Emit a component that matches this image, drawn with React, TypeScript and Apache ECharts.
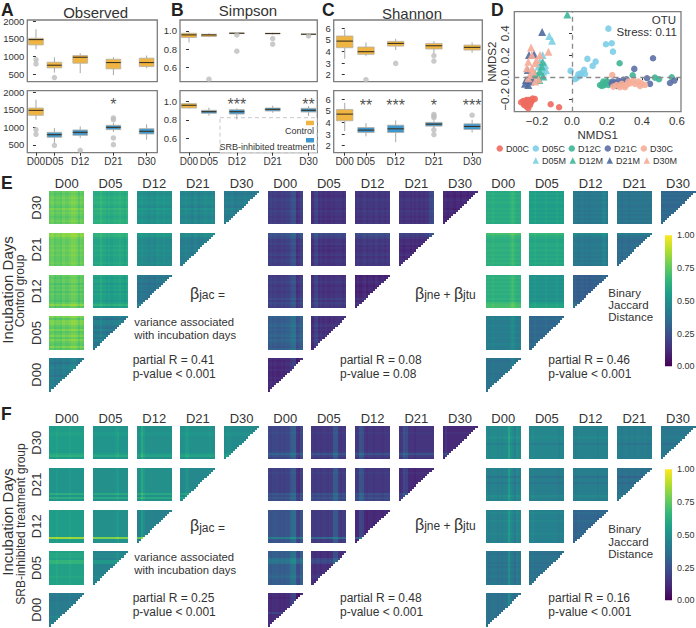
import React, { useEffect, useRef } from "react";
import * as echarts from "echarts";

const FONT = "Liberation Sans";
const days = [0, 5, 12, 21, 30];
const dayLabels = ["D00", "D05", "D12", "D21", "D30"];
const rowLabels = ["D30", "D21", "D12", "D05", "D00"];

// box rows: [day, q1, median, q3, low whisker, high whisker]
const obsTop = [[0,1328,1480,1517,1205,1773],[5,674,750,835,542,977],[12,807,977,1025,523,1090],[21,646,826,920,466,977],[30,712,826,950,665,1025]];
const obsBottom = [[0,1340,1480,1547,1217,1783],[5,717,792,858,557,980],[12,773,858,925,698,1028],[21,934,1000,1057,868,1130],[30,811,887,962,651,1085]];
const simTop = [[0,.927,.956,.974,.872,.985],[5,.938,.956,.963,.93,.974],[12,.97,.974,.977,.965,.98],[21,.968,.971,.975,.96,.98],[30,.96,.963,.966,.949,.974]];
const simBottom = [[0,.93,.96,.978,.923,.989],[5,.872,.89,.905,.846,.934],[12,.864,.89,.912,.806,.927],[21,.897,.916,.93,.879,.956],[30,.886,.905,.927,.842,.952]];
const shaTop = [[0,4.33,4.9,5.34,3.38,5.9],[5,3.76,3.99,4.39,3.6,4.79],[12,4.47,4.7,4.88,4.13,5.1],[21,4.22,4.5,4.7,3.84,4.9],[30,4.13,4.36,4.56,3.9,4.79]];
const shaBottom = [[0,4.14,4.71,5.11,3.25,5.68],[5,3.13,3.34,3.56,2.8,3.94],[12,3.13,3.45,3.76,2.3,4.17],[21,3.68,3.85,4.0,3.5,4.17],[30,3.39,3.65,3.88,3.13,4.22]];

const obsTopOut = [[0,911],[0,788],[5,400]];
const obsBottomOut = [[0,934],[0,801],[5,490],[12,349],[21,1264],[21,1217],[21,698],[21,509]];
const simTopOut = [[5,.468],[12,.956],[12,.776],[21,.916],[21,.853],[30,.945]];
const simBottomOut: number[][] = [];
const shaTopOut = [[5,1.57],[12,2.98],[21,3.64],[21,3.18]];
const shaBottomOut = [[21,4.68],[21,4.54],[21,4.4],[21,3.36],[21,2.96],[30,4.62]];

const obsStars = [[21, "*"]];
const simStars = [[12, "***"], [30, "**"]];
const shaStars = [[5, "**"], [12, "***"], [21, "*"], [30, "***"]];

// NMDS ordination points
const d00c = [[-.291,-.227],[-.278,-.215],[-.269,-.242],[-.259,-.267],[-.25,-.282],[-.244,-.206],[-.236,-.23],[-.225,-.194],[-.213,-.197],[-.25,-.236],[-.263,-.218],[-.23,-.215],[-.274,-.252],[-.259,-.206],[-.24,-.252],[-.122,-.245],[-.074,-.273]];
const d05c = [[.208,.442],[.194,.3],[.227,.309],[.234,.233],[.088,.167],[.135,.142],[.118,.103],[.069,.067],[.05,.036],[.036,.027],[-.008,.058],[.017,-.018],[.03,-.003],[.074,.03],[.046,.012]];
const d12c = [[.272,.127],[.347,.018],[.474,-.003],[.497,-.018],[.57,0],[.16,-.07],[.179,-.039],[.17,-.079],[.189,-.055],[.198,-.036],[.217,-.048],[.183,-.073],[.208,-.07]];
const d21c = [[.463,.173],[.356,.076],[.429,-.009],[.56,-.052],[.585,-.03],[.232,-.039],[.246,-.048],[.265,-.033],[.293,-.024],[.312,-.018],[.227,-.06],[.255,-.079],[.446,-.06],[.278,-.048]];
const d30c = [[.23,.021],[.35,-.03],[.379,-.039],[.398,-.055],[.417,-.07],[.331,-.055],[.312,-.07],[.293,-.079],[.274,-.091],[.255,-.07],[.236,-.085],[.36,-.06],[.389,-.079],[.284,-.06],[.303,-.091],[.322,-.039]];
const d05m = [[-.13,.376],[-.114,.333],[-.168,.203],[-.154,.112],[-.164,.052],[-.183,.142],[-.149,.067],[-.173,.021],[-.192,.097]];
const d12m = [[-.027,.57],[-.168,.142],[-.183,.052],[-.198,.021],[-.173,.097],[-.164,.006],[-.211,.03],[-.187,-.024]];
const d21m = [[-.171,.412],[-.246,.203],[-.217,.209],[-.253,.067],[-.25,-.07],[-.263,-.024],[-.24,-.039],[-.269,-.06],[-.23,-.009]];
const d30m = [[-.234,.27],[-.135,.233],[-.23,.203],[-.25,.142],[-.211,.127],[-.259,.082],[-.23,.082],[-.202,.158],[-.24,.021],[-.211,-.039],[-.192,-.018],[-.25,-.009],[-.221,.052],[-.183,.203]];

// Panel mean distances, rows D30 -> D00, columns D00 -> D30
const eJacBase = [[.75,.62,.5,.46,.42],[.75,.58,.47,.42],[.73,.56,.38],[.75,.4],[.42]];
const eMidBase = [[.2,.16,.17,.16,.12],[.2,.16,.17,.13],[.2,.16,.12],[.3,.14],[.14]];
const eBinBase = [[.6,.55,.4,.38,.33],[.62,.58,.4,.35],[.62,.5,.3],[.42,.33],[.38]];
const fJacBase = [[.55,.52,.5,.5,.48],[.52,.5,.5,.47],[.55,.5,.45],[.57,.45],[.42]];
const fMidBase = [[.22,.17,.16,.15,.12],[.2,.18,.17,.12],[.27,.18,.12],[.3,.14],[.13]];
const fBinBase = [[.48,.46,.45,.43,.4],[.45,.43,.43,.38],[.45,.44,.33],[.4,.38],[.38]];

// Stripe profiles per incubation day: base-36 digit, 5 = no shift, one step = 0.02
const eJacCols = ["5645546556776465","5557554545556546","5565545546556555","5565546545565565","5556545556555565"];
const eJacRows = ["5456565475654565","8865556565655565","6566465646554695","7477547457475474","5535655536555555"];
const eMidCols = ["4545445455788235","4784545445455545","4545645546545455","5545545454545589","5545545545545565"];
const eMidRows = ["5545655546554545","9875564545645655","4556545545575765","6556756567576546","5455454445455544"];
const eBinCols = ["5556555555578655","5565555655556555","5545545455555775","5545545555555555","5555555555555555"];
const eBinRows = ["5656565565656565","9765566565656565","5656565656565899","5655655655655655","5455555455555555"];
const fJacCols = ["5556555556555555","5555555555675555","55a7555555555555","5577555555555655","5665555555555555"];
const fJacRows = ["5556655555555795","555555555555a5a5","5555555555555k55","5665995555556555","5544555555575555"];
const fMidCols = ["5455545455899215","5455455455aa5455","55a9545545554555","56a9555455555555","4755555555555555"];
const fMidRows = ["5556555555556a75","5565555555559797","5555555555555d55","5559a95555567555","5545555559555555"];
const fBinCols = ["5455545455a65365","5655555555555455","5455555555545555","5545545545545545","5555555555555555"];
const fBinRows = ["5555565535555555","5555255355555765","5655565555565555","5455545455455455","5555555555555555"];

const viridisStops = ["#440154","#482878","#3e4989","#31688e","#26828e","#1f9e89","#35b779","#6ece58","#b5de2b","#fde725"];

const boxPos = { top: [20, 61.7], bottom: [90.7, 62] };
const panels = [
  { left: 27.3, width: 130, xr: [-2.35, 32.9], yr: [281, 2037], ticks: [500,1000,1500,2000], fmt: (v: number) => String(v), boxW: 14.7, top: obsTop, bottom: obsBottom, topOut: obsTopOut, botOut: obsBottomOut, stars: obsStars, starY: 1640 },
  { left: 180, width: 137.3, xr: [-2.26, 32.2], yr: [.44, 1.12], ticks: [.6,.8,1], fmt: (v: number) => v.toFixed(1), boxW: 15, top: simTop, bottom: simBottom, topOut: simTopOut, botOut: simBottomOut, stars: simStars, starY: .964 },
  { left: 333.7, width: 148.6, xr: [-2.6, 32.4], yr: [1.4, 6.72], ticks: [2,3,4,5,6], fmt: (v: number) => String(v), boxW: 16.4, top: shaTop, bottom: shaBottom, topOut: shaTopOut, botOut: shaBottomOut, stars: shaStars, starY: 5.43 },
];

const heatBlocks = [
  { left: 49.3, top: 191, base: eJacBase, cols: eJacCols, rows: eJacRows, yLabels: true },
  { left: 267.7, top: 191, base: eMidBase, cols: eMidCols, rows: eMidRows, yLabels: false },
  { left: 485.7, top: 191, base: eBinBase, cols: eBinCols, rows: eBinRows, yLabels: false },
  { left: 49.3, top: 426, base: fJacBase, cols: fJacCols, rows: fJacRows, yLabels: true },
  { left: 267.7, top: 426, base: fMidBase, cols: fMidCols, rows: fMidRows, yLabels: false },
  { left: 485.7, top: 426, base: fBinBase, cols: fBinCols, rows: fBinRows, yLabels: false },
];

const clamp01 = (v: number) => Math.max(0, Math.min(1, v));
const viridis = (v: number) => echarts.color.lerp(clamp01(v), viridisStops) as string;
const shift = (c: string) => (parseInt(c, 36) - 5) * 0.02;

function heatCells(b: typeof heatBlocks[number]) {
  const cells: number[][] = [];
  b.base.forEach((row, r) => {
    row.forEach((m, c) => {
      const tri = c === row.length - 1;
      for (let i = 0; i < 16; i++) for (let j = 0; j < 16; j++) {
        if (tri && i + j >= 16) continue;
        cells.push([c * 20 + j, r * 20 + i, m + shift(b.rows[r][i]) + shift(b.cols[c][j])]);
      }
    });
  });
  return cells;
}

const heatRender = (_: any, api: any) => {
  const p0 = api.coord([api.value(0), api.value(1)]);
  const p1 = api.coord([api.value(0) + 1, api.value(1) + 1]);
  const x = Math.round(p0[0]), y = Math.round(p0[1]);
  return { type: "rect", shape: { x, y, width: Math.round(p1[0]) - x, height: Math.round(p1[1]) - y }, style: { fill: viridis(api.value(2)) }, silent: true };
};

const boxRender = (fill: string, w: number) => (_: any, api: any) => {
  const d = api.value(0);
  const [x, q1] = api.coord([d, api.value(1)]);
  const med = api.coord([d, api.value(2)])[1];
  const q3 = api.coord([d, api.value(3)])[1];
  const lo = api.coord([d, api.value(4)])[1];
  const hi = api.coord([d, api.value(5)])[1];
  const wh = { stroke: "#a8a8a8", lineWidth: 1 };
  return {
    type: "group",
    silent: true,
    children: [
      { type: "line", shape: { x1: x, y1: hi, x2: x, y2: q3 }, style: wh },
      { type: "line", shape: { x1: x, y1: q1, x2: x, y2: lo }, style: wh },
      { type: "rect", shape: { x: x - w / 2, y: q3, width: w, height: q1 - q3 }, style: { fill, stroke: "#b5b0a4", lineWidth: 0.8 } },
      { type: "line", shape: { x1: x - w / 2, y1: med, x2: x + w / 2, y2: med }, style: { stroke: "#3d3320", lineWidth: 1.1 } },
    ],
  };
};

const ORANGE = "#efb441";
const BLUE = "#3f97cf";

function T(text: string, x: number, y: number, size = 12, extra: any = {}, rotation = 0) {
  return {
    type: "text", x, y, rotation, silent: true,
    style: { text, fontFamily: FONT, fontSize: size, fill: "#333", textAlign: "left", textVerticalAlign: "middle", ...extra },
  };
}

const betaRich = (t: string) => ({
  rich: { a: { fontFamily: FONT, fontSize: 16, fill: "#333" }, b: { fontFamily: FONT, fontSize: 12, fill: "#333", verticalAlign: "bottom" } },
  text: t,
});

function buildOption() {
  const grids: any[] = [], xAxes: any[] = [], yAxes: any[] = [], series: any[] = [];
  const gi = () => grids.length - 1;

  panels.forEach((p) => {
    (["top", "bottom"] as const).forEach((row) => {
      const [top, height] = boxPos[row];
      grids.push({ left: p.left, top, width: p.width, height, show: true, borderColor: "#7d7d7d", borderWidth: 1.3, backgroundColor: "transparent", containLabel: false, outerBoundsMode: "none" });
      const isBottom = row === "bottom";
      xAxes.push({
        type: "value", gridIndex: gi(), min: p.xr[0], max: p.xr[1], splitLine: { show: false }, axisLine: { show: false },
        axisTick: { show: isBottom, length: 3, lineStyle: { color: "#333" }, customValues: days },
        axisLabel: { show: isBottom, fontFamily: FONT, fontSize: 10, color: "#333", margin: 4, customValues: days, formatter: (v: number) => dayLabels[days.indexOf(v)] },
      });
      yAxes.push({
        type: "value", gridIndex: gi(), min: p.yr[0], max: p.yr[1], splitLine: { show: false }, axisLine: { show: false },
        axisTick: { show: true, length: 3, lineStyle: { color: "#333" }, customValues: p.ticks },
        axisLabel: { fontFamily: FONT, fontSize: 9.5, color: "#333", margin: 3, customValues: p.ticks, formatter: p.fmt },
      });
      const data = isBottom ? p.bottom : p.top;
      const control = isBottom ? data.slice(0, 1) : data;
      const treated = isBottom ? data.slice(1) : [];
      const out = isBottom ? p.botOut : p.topOut;
      const base = { xAxisIndex: gi(), yAxisIndex: gi() };
      series.push({ ...base, type: "scatter", silent: true, symbolSize: 5.5, itemStyle: { color: "#bdbdbd" }, data: out });
      series.push({ ...base, type: "custom", silent: true, renderItem: boxRender(ORANGE, p.boxW), encode: { x: 0, y: [1, 2, 3, 4, 5] }, data: control });
      if (treated.length) series.push({ ...base, type: "custom", silent: true, renderItem: boxRender(BLUE, p.boxW), encode: { x: 0, y: [1, 2, 3, 4, 5] }, data: treated });
      if (isBottom) {
        p.stars.forEach(([d, s]) => {
          series.push({
            ...base, type: "scatter", silent: true, symbolSize: 0, data: [[d, p.starY]],
            label: { show: true, position: "inside", formatter: s as string, fontFamily: FONT, fontSize: 16, color: "#222" },
          });
        });
      }
    });
  });

  // NMDS panel
  grids.push({ left: 514.3, top: 11.7, width: 166.7, height: 100, show: true, borderColor: "#7d7d7d", borderWidth: 1.3, backgroundColor: "transparent", containLabel: false, outerBoundsMode: "none" });
  const nm = gi();
  const xt = [-.2, 0, .2, .4, .6], yt = [-.2, 0, .2, .4];
  xAxes.push({
    type: "value", gridIndex: nm, min: -.33, max: .623, splitLine: { show: false }, axisLine: { show: false },
    name: "NMDS1", nameLocation: "middle", nameGap: 17, nameTextStyle: { fontFamily: FONT, fontSize: 11.5, color: "#333" },
    axisTick: { length: 3, lineStyle: { color: "#333" }, customValues: xt },
    axisLabel: { fontFamily: FONT, fontSize: 11.5, color: "#333", margin: 3, customValues: xt, formatter: (v: number) => v.toFixed(1).replace("-", "\u2212") },
  });
  yAxes.push({
    type: "value", gridIndex: nm, min: -.313, max: .596, splitLine: { show: false }, axisLine: { show: false },
    name: "NMDS2", nameLocation: "middle", nameGap: 16, nameTextStyle: { fontFamily: FONT, fontSize: 11.5, color: "#333" },
    axisTick: { length: 3, lineStyle: { color: "#333" }, customValues: yt },
    axisLabel: { rotate: 90, fontFamily: FONT, fontSize: 11.5, color: "#333", margin: 3, customValues: yt, formatter: (v: number) => v.toFixed(1).replace("-", "\u2212") },
  });
  const pts: [string, number[][], string, string][] = [
    ["D00C", d00c, "#ee6a5f", "circle"], ["D05C", d05c, "#7ccde8", "circle"], ["D12C", d12c, "#3fb593", "circle"],
    ["D21C", d21c, "#5c6fa6", "circle"], ["D30C", d30c, "#f6ae98", "circle"],
    ["D05M", d05m, "#7cd0e4", "triangle"], ["D12M", d12m, "#3db79a", "triangle"], ["D21M", d21m, "#4f6a9e", "triangle"], ["D30M", d30m, "#f5ab98", "triangle"],
  ];
  pts.forEach(([name, data, color, symbol], k) => {
    series.push({
      type: "scatter", name, xAxisIndex: nm, yAxisIndex: nm, data, symbol, symbolSize: symbol === "circle" ? 6.5 : 8, silent: true,
      itemStyle: { color, opacity: 0.9 },
      ...(k === 0 ? { markLine: { silent: true, symbol: "none", label: { show: false }, lineStyle: { color: "#8a8a8a", type: [5, 4], width: 1.3 }, data: [{ xAxis: 0 }, { yAxis: 0 }] } } : {}),
    });
  });

  // Distance-matrix blocks
  const cen = [8, 28, 48, 68, 88];
  heatBlocks.forEach((b) => {
    grids.push({ left: b.left, top: b.top, width: 209.8, height: 200.5, show: false, containLabel: false, outerBoundsMode: "none" });
    const g = gi();
    xAxes.push({
      type: "value", gridIndex: g, position: "top", min: 0, max: 96, splitLine: { show: false }, axisLine: { show: false }, axisTick: { show: false },
      axisLabel: { fontFamily: FONT, fontSize: 13, color: "#333", margin: 1, customValues: cen, formatter: (v: number) => dayLabels[cen.indexOf(v)] },
    });
    yAxes.push({
      type: "value", gridIndex: g, inverse: true, min: 0, max: 96, splitLine: { show: false }, axisLine: { show: false }, axisTick: { show: false },
      axisLabel: { show: b.yLabels, rotate: 90, fontFamily: FONT, fontSize: 13, color: "#333", margin: 6, customValues: cen, formatter: (v: number) => rowLabels[cen.indexOf(v)] },
    });
    series.push({ type: "custom", xAxisIndex: g, yAxisIndex: g, silent: true, progressive: 0, renderItem: heatRender, encode: { x: 0, y: 1 }, data: heatCells(b) });
  });

  // Colour bars
  const barTicks = [0, .25, .5, .75, 1];
  [235.3, 469.3].forEach((top) => {
    grids.push({ left: 665, top, width: 7, height: 131, show: false, containLabel: false, outerBoundsMode: "none" });
    const g = gi();
    xAxes.push({ type: "value", gridIndex: g, min: 0, max: 1, show: false });
    yAxes.push({
      type: "value", gridIndex: g, position: "right", min: 0, max: 1, splitLine: { show: false }, axisLine: { show: false }, axisTick: { show: false },
      axisLabel: { fontFamily: FONT, fontSize: 9, color: "#333", margin: 5, customValues: barTicks, formatter: (v: number) => v.toFixed(2) },
    });
    series.push({
      type: "custom", xAxisIndex: g, yAxisIndex: g, silent: true, encode: { x: 0, y: 1 }, data: [[0, 0, 1, 1]],
      renderItem: (_: any, api: any) => {
        const a = api.coord([api.value(0), api.value(1)]);
        const c = api.coord([api.value(2), api.value(3)]);
        return {
          type: "rect", shape: { x: a[0], y: c[1], width: c[0] - a[0], height: a[1] - c[1] },
          style: { fill: new echarts.graphic.LinearGradient(0, 1, 0, 0, viridisStops.map((color, i) => ({ offset: i / (viridisStops.length - 1), color }))) },
        };
      },
    });
  });

  const letters: [string, number, number][] = [["A", 1, 9.5], ["B", 171, 9.5], ["C", 322, 9.5], ["D", 491, 9.5], ["E", 1, 183], ["F", 1, 414]];
  const annot = (yb: number, yv: number, yp: number, r1: string, r2: string, r3: string, p1: string, p2: string, p3: string, yBin: number[], yMid: number) => [
    T("{a|\u03b2}{b|jac =}", 190, yb, 12, betaRich("{a|\u03b2}{b|jac =}")),
    T("variance associated", 134.3, yv, 11.3),
    T("with incubation days", 134.3, yv + 13, 11.3),
    T(r1, 132.7, yp, 12), T(p1, 132.7, yp + 14, 12),
    T("{a|\u03b2}{b|jne +} {a|\u03b2}{b|jtu}", 415, yMid, 12, betaRich("{a|\u03b2}{b|jne +} {a|\u03b2}{b|jtu}")),
    T(r2, 340, yp, 12), T(p2, 340, yp + 14, 12),
    T("Binary", 608.3, yBin[0], 11.5), T("Jaccard", 608.3, yBin[1], 11.5), T("Distance", 608.3, yBin[2], 11.5),
    T(r3, 548.3, yp, 12), T(p3, 548.3, yp + 14, 12),
  ];

  const graphic = [
    T("Observed", 95.7, 12.7, 15, { textAlign: "center" }),
    T("Simpson", 248, 10, 15, { textAlign: "center" }),
    T("Shannon", 412, 13, 15, { textAlign: "center" }),
    ...letters.map(([t, x, y]) => T(t, x, y, 17.5, { fontWeight: "bold", fill: "#222" })),
    T("OTU", 676, 19.5, 11.5, { textAlign: "right" }),
    T("Stress: 0.11", 677, 31.7, 11.5, { textAlign: "right" }),
    { type: "rect", silent: true, shape: { x: 220, y: 117.7, width: 97, height: 35 }, style: { fill: "rgba(255,255,255,0.9)", stroke: "#c8c8c8", lineWidth: 1, lineDash: [4, 3] } },
    { type: "rect", silent: true, shape: { x: 306, y: 120.7, width: 8, height: 4.5 }, style: { fill: ORANGE } },
    { type: "rect", silent: true, shape: { x: 306, y: 138, width: 8, height: 4.5 }, style: { fill: BLUE } },
    T("Control", 314, 131, 9, { textAlign: "right" }),
    T("SRB-inhibited treatment", 315, 147, 9, { textAlign: "right" }),
    T("Incubation Days", 7.6, 290, 15, { textAlign: "center" }, Math.PI / 2),
    T("Control group", 20, 291, 12, { textAlign: "center" }, Math.PI / 2),
    T("Incubation Days", 7.6, 522, 15, { textAlign: "center" }, Math.PI / 2),
    T("SRB-inhibited treatment group", 21, 524, 12, { textAlign: "center" }, Math.PI / 2),
    ...annot(293, 321.7, 360, "partial R = 0.41", "partial R = 0.08", "partial R = 0.46", "p-value < 0.001", "p-value = 0.08", "p-value < 0.001", [292.7, 305, 317], 293),
    ...annot(525.7, 557.3, 597.7, "partial R = 0.25", "partial R = 0.48", "partial R = 0.16", "p-value < 0.001", "p-value < 0.001", "p-value < 0.001", [529.3, 541.7, 553.5], 524.3),
  ];

  const legendBase = { orient: "horizontal", itemWidth: 6.5, itemHeight: 6.5, itemGap: 3.5, textStyle: { fontFamily: FONT, fontSize: 9, color: "#333", padding: [0, 0, 0, -2] }, selectedMode: false, padding: 0 };
  return {
    animation: false,
    backgroundColor: "#fff",
    grid: grids, xAxis: xAxes, yAxis: yAxes, series,
    graphic: { elements: graphic },
    legend: [
      { ...legendBase, left: 496.5, top: 144, icon: "circle", data: ["D00C", "D05C", "D12C", "D21C", "D30C"] },
      { ...legendBase, left: 532.5, top: 156, icon: "triangle", data: ["D05M", "D12M", "D21M", "D30M"] },
    ],
  };
}

export default function App() {
  const ref = useRef<HTMLDivElement>(null);
  useEffect(() => {
    const chart = echarts.init(ref.current!, undefined, { renderer: "svg" });
    chart.setOption(buildOption() as any);
    return () => chart.dispose();
  }, []);
  return <div ref={ref} style={{ position: "absolute", left: 0, top: 0, width: 696, height: 628 }} />;
}
